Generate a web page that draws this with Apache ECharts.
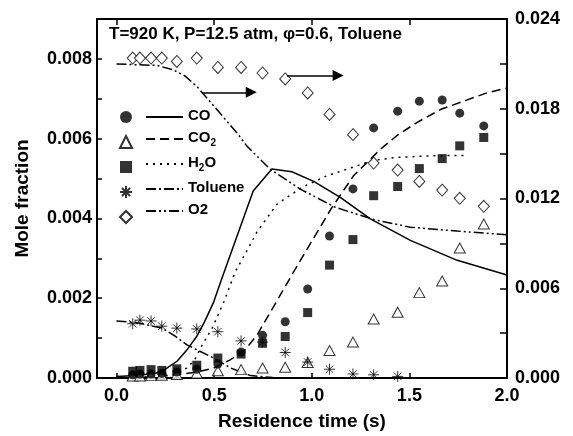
<!DOCTYPE html>
<html>
<head>
<meta charset="utf-8">
<script src="https://cdn.jsdelivr.net/npm/echarts@6/dist/echarts.min.js"></script>
<style>
html, body { margin: 0; padding: 0; background: #fff; }
#chart { width: 573px; height: 436px; }
</style>
</head>
<body>
<div id="chart"></div>
<script>
// measured residence times (s)
var tExp = [0.083, 0.12, 0.177, 0.232, 0.309, 0.411, 0.519, 0.638, 0.748, 0.864, 0.979, 1.091, 1.211, 1.317, 1.44, 1.551, 1.668, 1.758, 1.881];

// experimental mole fractions (left axis except O2 -> right axis)
var coExp = [0.00008, 0.0001, 0.0001, 0.00012, 0.00015, 0.00022, 0.00035, 0.00065, 0.00107, 0.00141, 0.00223, 0.00356, 0.00474, 0.00627, 0.00669, 0.00694, 0.00697, 0.00664, 0.00632];
var co2Exp = [0.00005, 0.00005, 0.00006, 0.00007, 0.00009, 0.00012, 0.00018, 0.00021, 0.00025, 0.00027, 0.00039, 0.00069, 0.0009, 0.00148, 0.00165, 0.00214, 0.00243, 0.00326, 0.00386];
var h2oExp = [0.00017, 0.00019, 0.00021, 0.00019, 0.00023, 0.00032, 0.0005, 0.0006, 0.00087, 0.00104, 0.00164, 0.00283, 0.00347, 0.00457, 0.0048, 0.00525, 0.0055, 0.00582, 0.00603];
var tolExp = [0.00136, 0.00145, 0.00143, 0.0013, 0.00125, 0.00123, 0.00116, 0.00093, 0.0009, 0.00064, 0.0004, 0.00022, 0.0001, 0.00008, 0.00004, null, null, null, null];
var o2Exp = [0.02139, 0.02139, 0.02139, 0.02139, 0.02116, 0.02139, 0.02076, 0.02076, 0.02039, 0.01999, 0.01906, 0.01762, 0.01627, 0.01437, 0.0139, 0.01314, 0.01256, 0.01201, 0.01148];

// model curves: [time, mole fraction]
var coModel = [[0, 0.00004], [0.1, 0.00006], [0.2, 0.00012], [0.25, 0.00022], [0.31, 0.00042], [0.36, 0.0007], [0.413, 0.00106], [0.45, 0.0014], [0.498, 0.00191], [0.539, 0.00249], [0.70, 0.00469], [0.796, 0.00524], [0.898, 0.00517], [1.01, 0.00493], [1.146, 0.00453], [1.30, 0.00399], [1.505, 0.00345], [1.745, 0.00295], [2.0, 0.00258]];
var co2Model = [[0, 0], [0.2, 0.00003], [0.31, 0.00008], [0.413, 0.00015], [0.498, 0.00025], [0.58, 0.00045], [0.652, 0.00067], [0.72, 0.00108], [0.8, 0.00175], [0.9, 0.0026], [1.0, 0.00343], [1.1, 0.00425], [1.214, 0.00507], [1.351, 0.00573], [1.437, 0.00608], [1.54, 0.00641], [1.659, 0.00673], [1.778, 0.00694], [1.898, 0.00715], [2.0, 0.00727]];
var h2oModel = [[0, 0.00001], [0.2, 0.00003], [0.3, 0.0001], [0.36, 0.00025], [0.40, 0.00045], [0.43, 0.00075], [0.49, 0.00125], [0.55, 0.00191], [0.608, 0.00266], [0.678, 0.00328], [0.719, 0.00366], [0.822, 0.00436], [0.95, 0.00478], [1.078, 0.00507], [1.232, 0.00532], [1.317, 0.00546], [1.437, 0.00553], [1.608, 0.00557], [1.787, 0.00558]];
var tolModel = [[0, 0.00143], [0.1, 0.00139], [0.233, 0.00125], [0.30, 0.00105], [0.361, 0.00083], [0.498, 0.0005], [0.584, 0.00025], [0.686, 0.00006], [0.8, 0.00001], [1.0, 0], [1.8, 0]];
var o2Model = [[0, 0.02099], [0.206, 0.0209], [0.291, 0.0206], [0.35, 0.0202], [0.411, 0.0195], [0.514, 0.01795], [0.616, 0.0164], [0.668, 0.0155], [0.787, 0.01396], [0.941, 0.01263], [1.121, 0.01141], [1.317, 0.01059], [1.505, 0.01008], [1.745, 0.00982], [2.0, 0.00957]];

// tick labels
var xTicks = [0, 0.5, 1.0, 1.5, 2.0];
var yLeftTicks = [0, 0.002, 0.004, 0.006, 0.008];
var yRightTicks = [0, 0.006, 0.012, 0.018, 0.024];

// arrows pointing to the right-hand axis (O2), in data units
var arrowO2Line = [[0.437, 0.0191], [0.69, 0.0191]];
var arrowO2Exp = [[0.873, 0.02022], [1.135, 0.02022]];

var FONT = '"Liberation Sans", Arial, Helvetica, sans-serif';
var star = 'path://M5,0L5,10M0,5L10,5M1.6,1.6L8.4,8.4M1.6,8.4L8.4,1.6';

function pairs(arr) {
	var out = [];
	for (var i = 0; i < tExp.length; i++) {
		if (arr[i] != null) out.push([tExp[i], arr[i]]);
	}
	return out;
}

var legendText = {
	'CO model': '{b|CO}',
	'CO2 model': '{b|CO}{s|2}',
	'H2O model': '{b|H}{s|2}{b|O}',
	'Toluene model': '{b|Toluene}',
	'O2 model': '{b|O2}'
};

var chart = echarts.init(document.getElementById('chart'), null, { renderer: 'canvas' });

var filled = { color: '#000', borderColor: '#000', borderWidth: 0 };
var hollow = { color: '#fff', borderColor: '#000', borderWidth: 1 };
var noSymbol = { color: 'rgba(0,0,0,0)', borderColor: 'rgba(0,0,0,0)', borderWidth: 0, opacity: 0 };

chart.setOption({
	animation: false,
	backgroundColor: '#fff',
	textStyle: { fontFamily: FONT },
	title: {
		text: 'T=920 K, P=12.5 atm, \u03C6=0.6, Toluene',
		left: 109,
		top: 26,
		padding: 0,
		textStyle: { fontFamily: FONT, fontSize: 17, fontWeight: 'bold', color: '#000' }
	},
	legend: [
		{
			// symbols column
			orient: 'vertical',
			left: 119,
			top: 108,
			padding: 0,
			itemGap: 7,
			itemWidth: 12,
			itemHeight: 12,
			selectedMode: false,
			formatter: function () { return ' '; },
			textStyle: { fontSize: 15, lineHeight: 18 },
			data: ['CO', 'CO2', 'H2O', 'Toluene', 'O2']
		},
		{
			// line column with names
			orient: 'vertical',
			left: 145,
			top: 108,
			padding: 0,
			itemGap: 7,
			itemWidth: 37,
			itemHeight: 12,
			selectedMode: false,
			itemStyle: { opacity: 0 },
			formatter: function (name) { return legendText[name]; },
			textStyle: {
				color: '#000',
				rich: {
					b: { fontFamily: FONT, fontSize: 15, fontWeight: 'bold', color: '#000', lineHeight: 18, verticalAlign: 'top' },
					s: { fontFamily: FONT, fontSize: 10, fontWeight: 'bold', color: '#000', lineHeight: 10, verticalAlign: 'bottom' }
				}
			},
			data: ['CO model', 'CO2 model', 'H2O model', 'Toluene model', 'O2 model']
		}
	],
	grid: { left: 97, right: 66, top: 19, bottom: 56, containLabel: false },
	xAxis: [
		{
			type: 'value',
			min: -0.1,
			max: 2.0,
			name: 'Residence time (s)',
			nameLocation: 'middle',
			nameGap: 34,
			nameTextStyle: { fontFamily: FONT, fontSize: 19, fontWeight: 'bold', color: '#000' },
			axisLine: { onZero: false, lineStyle: { color: '#000', width: 2 } },
			axisTick: { inside: true, length: 5, customValues: xTicks, lineStyle: { color: '#000', width: 1.5 } },
			axisLabel: {
				customValues: xTicks,
				margin: 9,
				fontFamily: FONT, fontSize: 18, fontWeight: 'bold', color: '#000',
				formatter: function (v) { return v.toFixed(1); }
			},
			splitLine: { show: false }
		},
		{
			type: 'value',
			position: 'top',
			min: -0.1,
			max: 2.0,
			axisLine: { onZero: false, lineStyle: { color: '#000', width: 2 } },
			axisTick: { inside: true, length: 6, customValues: xTicks, lineStyle: { color: '#000', width: 1.5 } },
			axisLabel: { show: false },
			splitLine: { show: false }
		}
	],
	yAxis: [
		{
			type: 'value',
			min: 0,
			max: 0.009,
			interval: 0.001,
			name: 'Mole fraction',
			nameLocation: 'middle',
			nameRotate: 90,
			nameGap: 65,
			nameTextStyle: { fontFamily: FONT, fontSize: 19, fontWeight: 'bold', color: '#000' },
			axisLine: { onZero: false, lineStyle: { color: '#000', width: 2 } },
			axisTick: { inside: true, length: 5, lineStyle: { color: '#000', width: 1.5 } },
			axisLabel: {
				customValues: yLeftTicks,
				margin: 5,
				fontFamily: FONT, fontSize: 18, fontWeight: 'bold', color: '#000',
				formatter: function (v) { return v.toFixed(3); }
			},
			splitLine: { show: false }
		},
		{
			type: 'value',
			position: 'right',
			min: 0,
			max: 0.024,
			interval: 0.003,
			axisLine: { onZero: false, lineStyle: { color: '#000', width: 2 } },
			axisTick: { inside: true, length: 7, lineStyle: { color: '#000', width: 1.5 } },
			axisLabel: {
				customValues: yRightTicks,
				margin: 8,
				fontFamily: FONT, fontSize: 18, fontWeight: 'bold', color: '#000',
				formatter: function (v) { return v.toFixed(3); }
			},
			splitLine: { show: false }
		}
	],
	series: [
		{
			name: 'CO model', type: 'line', symbol: 'none', data: coModel, z: 2, itemStyle: noSymbol,
			lineStyle: { color: '#000', width: 1.5, type: 'solid' }
		},
		{
			name: 'CO2 model', type: 'line', symbol: 'none', data: co2Model, z: 2, itemStyle: noSymbol,
			lineStyle: { color: '#000', width: 1.5, type: [9, 5] }
		},
		{
			name: 'H2O model', type: 'line', symbol: 'none', data: h2oModel, z: 2, itemStyle: noSymbol,
			lineStyle: { color: '#000', width: 1.5, type: [2, 5] }
		},
		{
			name: 'Toluene model', type: 'line', symbol: 'none', data: tolModel, z: 2, itemStyle: noSymbol,
			lineStyle: { color: '#000', width: 1.5, type: [10, 3, 2, 3] }
		},
		{
			name: 'O2 model', type: 'line', symbol: 'none', data: o2Model, yAxisIndex: 1, z: 2, itemStyle: noSymbol,
			lineStyle: { color: '#000', width: 1.5, type: [10, 3, 2, 3, 2, 3] }
		},
		{
			name: 'CO2', type: 'scatter', data: pairs(co2Exp), symbol: 'triangle', symbolSize: [11, 10], itemStyle: hollow, z: 3
		},
		{
			name: 'Toluene', type: 'scatter', data: pairs(tolExp), symbol: star, symbolSize: 11,
			itemStyle: { color: '#000', borderColor: '#000', borderWidth: 1 }, z: 3
		},
		{
			name: 'O2', type: 'scatter', data: pairs(o2Exp), yAxisIndex: 1, symbol: 'diamond', symbolSize: [11, 12], itemStyle: hollow, z: 3,
			markLine: {
				silent: true,
				symbol: ['none', 'triangle'],
				symbolSize: 11,
				label: { show: false },
				itemStyle: { color: '#000' },
				lineStyle: { color: '#000', width: 1.5, type: 'solid' },
				data: [
					[{ coord: arrowO2Line[0] }, { coord: arrowO2Line[1] }],
					[{ coord: arrowO2Exp[0] }, { coord: arrowO2Exp[1] }]
				]
			}
		},
		{
			name: 'CO', type: 'scatter', data: pairs(coExp), symbol: 'circle', symbolSize: 9, itemStyle: filled, z: 4
		},
		{
			name: 'H2O', type: 'scatter', data: pairs(h2oExp), symbol: 'rect', symbolSize: 9, itemStyle: filled, z: 4
		}
	]
});
</script>
</body>
</html>
